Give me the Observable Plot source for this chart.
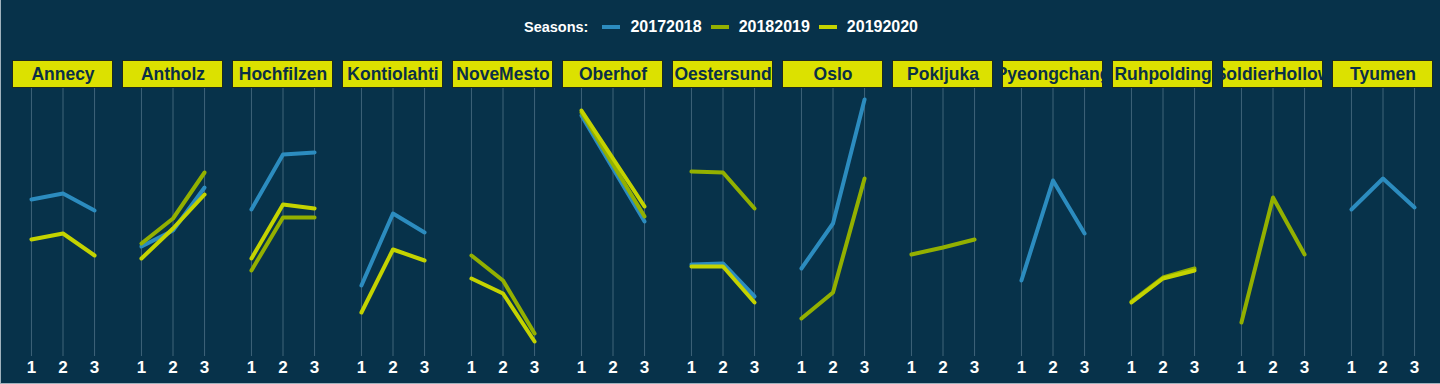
<!DOCTYPE html>
<html>
<head>
<meta charset="utf-8">
<script src="https://cdn.jsdelivr.net/npm/d3@7"></script>
<script src="https://cdn.jsdelivr.net/npm/@observablehq/plot@0.6"></script>
<style>
  html, body { margin: 0; padding: 0; background: #07324a; }
  #root {
    width: 1440px; height: 384px; box-sizing: border-box; position: relative;
    background: #07324a; overflow: hidden;
    border-left: 1px solid #9fb2bd; border-bottom: 1px solid #9fb2bd;
    font-family: "Liberation Sans", Arial, Helvetica, sans-serif;
  }
  #legend {
    height: 52px; display: flex; align-items: center; justify-content: center;
    color: #ffffff; font-weight: bold; padding-top: 2px; padding-left: 2px; box-sizing: border-box;
    margin-left: -1px;
  }
  #legend .title { font-size: 14.5px; margin-right: 14px; }
  #legend .item { display: flex; align-items: center; margin-right: 9px; font-size: 16px; }
  #legend .item:last-child { margin-right: 0; }
  #legend .key { width: 18px; height: 4px; margin-right: 10px; }
  #chart { margin-left: -1px; }
  #chart svg { display: block; }
</style>
</head>
<body>
<div id="root">
  <div id="legend"></div>
  <div id="chart"></div>
</div>
<script>
// ---- data ----
const venues = ["Annecy", "Antholz", "Hochfilzen", "Kontiolahti", "NoveMesto", "Oberhof",
  "Oestersund", "Oslo", "Pokljuka", "Pyeongchang", "Ruhpolding", "SoldierHollow", "Tyumen"];
const seasons = ["20172018", "20182019", "20192020"];
const races = [1, 2, 3];
const raceTicks = [1, 2, 3];

// values per venue (aligned with venues), null = no races that season
const season20172018 = [
  [62.8, 65.2, 58.4], [44.0, 50.4, 67.6], [58.8, 80.8, 81.6], [28.4, 57.2, 49.6], null,
  [96.4, 75.2, 54.0], [36.8, 37.2, 24.0], [35.2, 53.2, 102.8], null, [30.4, 70.4, 49.2],
  null, null, [58.8, 71.2, 59.6]
];
const season20182019 = [
  null, [45.2, 55.2, 73.6], [34.4, 55.6, 55.6], null, [40.4, 30.4, 9.2],
  [97.6, 76.8, 56.0], [74.0, 73.6, 59.2], [15.2, 25.6, 71.2], [40.8, 43.6, 46.8], null,
  [22.0, 31.6, 35.2], [13.6, 63.6, 40.8], null
];
const season20192020 = [
  [46.8, 49.2, 40.4], [39.2, 51.2, 64.8], [39.2, 60.8, 59.2], [17.6, 42.8, 38.4], [31.2, 25.2, 6.0],
  [98.4, 79.2, 60.0], [36.0, 36.0, 21.6], null, null, null,
  [21.6, 31.2, 34.4], null, null
];
const seasonColors = ["#2c8cbf", "#93b000", "#c4d300"];

// ---- build long table ----
const seasonValues = [season20172018, season20182019, season20192020];
const rows = [];
seasons.forEach((s, si) => {
  venues.forEach((v, vi) => {
    const vals = seasonValues[si][vi];
    if (!vals) return;
    races.forEach((r, ri) => rows.push({venue: v, season: s, race: r, value: vals[ri]}));
  });
});

// ---- layout constants ----
const Y_TOP = 118.4;      // top of frame (strip top)
const STRIP_BOTTOM = 107.2; // bottom of strip
const BG = "#07324a";
const STRIP_FILL = "#dce100";
const TEXT_DARK = "#0a2f47";

// ---- legend ----
const legend = document.getElementById("legend");
legend.innerHTML = `<span class="title">Seasons:</span>` + seasons.map((s, i) =>
  `<span class="item"><span class="key" style="background:${seasonColors[i]}"></span>${s}</span>`).join("");

// ---- chart ----
const chart = Plot.plot({
  width: 1440,
  height: 332,
  marginLeft: 12,
  marginRight: 7,
  marginTop: 8,
  marginBottom: 28,
  style: {
    background: BG,
    fontFamily: "'Liberation Sans', Arial, Helvetica, sans-serif",
    color: "#ffffff",
    overflow: "visible"
  },
  fx: {domain: venues, paddingInner: 0.082, paddingOuter: 0, axis: null, label: null},
  x: {domain: [0.4, 3.6], axis: null},
  y: {domain: [0, Y_TOP], axis: null},
  color: {domain: seasons, range: seasonColors},
  marks: [
    Plot.gridX(raceTicks, {stroke: "#4d7086", strokeOpacity: 0.8, strokeWidth: 1}),
    Plot.rect(venues, {fx: d => d, y1: STRIP_BOTTOM, y2: Y_TOP, fill: STRIP_FILL,
      stroke: "#1e2a22", strokeWidth: 1, inset: 0.5}),
    Plot.text(venues, {fx: d => d, text: d => d, frameAnchor: "top", dy: 14,
      lineAnchor: "middle", fontSize: 17.5, fontWeight: "bold", fill: TEXT_DARK, clip: true}),
    Plot.line(rows, {fx: "venue", x: "race", y: "value", z: "season", stroke: "season",
      strokeWidth: 4, strokeLinecap: "round", strokeLinejoin: "round"}),
    Plot.axisX(raceTicks, {tickSize: 0, tickPadding: 4, fontSize: 17, fontWeight: "bold",
      fill: "#ffffff", tickFormat: d => String(d), label: null})
  ]
});
document.getElementById("chart").appendChild(chart);
</script>
</body>
</html>
